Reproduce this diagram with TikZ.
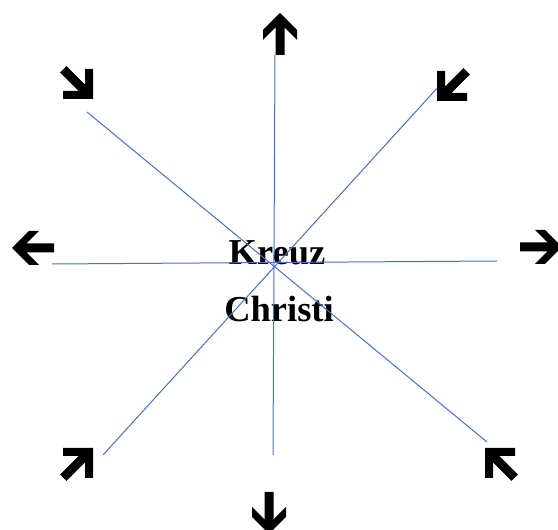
\documentclass[tikz,border=0pt]{standalone}
\usepackage{fontspec}
\setmainfont{Liberation Serif}
\definecolor{rayblue}{HTML}{4472C4}
\tikzset{
  ray/.style={draw=rayblue, line width=1pt},
  label/.style={font=\fontsize{36.5}{44}\selectfont\bfseries, inner sep=0pt, anchor=base},
  straightarrow/.pic={\fill[black] (0,0) -- (-17,17) -- (-27,17) -- (-14.5,4.5) -- (-42,4.5) -- (-42,-4.5) -- (-14.5,-4.5) -- (-27,-17) -- (-17,-17) -- cycle;},
  cornerarrow/.pic={\fill[black] (0,0) -- (0,30) -- (-8,30) -- (-8,14.4) -- (-26.5,32.9) -- (-32.9,26.5) -- (-14.4,8) -- (-30,8) -- (-30,0) -- cycle;}
}
\begin{document}
\begin{tikzpicture}[x=1pt,y=1pt]
    \useasboundingbox (0,0) rectangle (558,530);

    \node[label] (kreuz) at (277,265) {Kreuz};
    \node[label] (christi) at (279,208) {Christi};

    \coordinate (n) at (275,475);
    \coordinate (s) at (273,75);
    \coordinate (w) at (52,266);
    \coordinate (e) at (497,269);
    \coordinate (nw) at (87,418);
    \coordinate (se) at (487,88);
    \coordinate (ne) at (440,445);
    \coordinate (sw) at (103,75);

    \draw[ray] (n) -- (s);
    \draw[ray] (w) -- (e);
    \draw[ray] (nw) -- (se);
    \draw[ray] (ne) -- (sw);

    \path (280,517) pic[rotate=90] {straightarrow};
    \path (269,-4) pic[rotate=-90] {straightarrow};
    \path (12,282) pic[rotate=180] {straightarrow};
    \path (562,283) pic {straightarrow};

    \path (93,431) pic {cornerarrow};
    \path (437,429) pic[rotate=-90] {cornerarrow};
    \path (93,82) pic[rotate=90] {cornerarrow};
    \path (485,82) pic[rotate=180] {cornerarrow};
\end{tikzpicture}
\end{document}
